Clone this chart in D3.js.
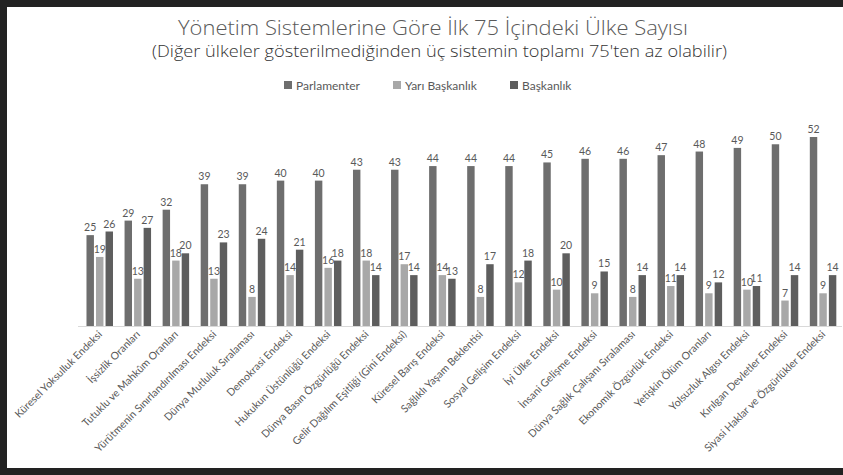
<!DOCTYPE html>
<html><head><meta charset="utf-8">
<script src="https://cdn.jsdelivr.net/npm/d3@7"></script>
<style>body{margin:0;background:#fff}svg{display:block}</style>
</head><body>
<svg id="chart" width="843" height="475"></svg>
<script>
const categories = [
  "Küresel Yoksulluk Endeksi","İşsizlik Oranları","Tutuklu ve Mahkûm Oranları",
  "Yürütmenin Sınırlandırılması Endeksi","Dünya Mutluluk Sıralaması","Demokrasi Endeksi",
  "Hukukun Üstünlüğü Endeksi","Dünya Basın Özgürlüğü Endeksi","Gelir Dağılım Eşitliği (Gini Endeksi)",
  "Küresel Barış Endeksi","Sağlıklı Yaşam Beklentisi","Sosyal Gelişim Endeksi","İyi Ülke Endeksi",
  "İnsani Gelişme Endeksi","Dünya Sağlık Çalışanı Sıralaması","Ekonomik Özgürlük Endeksi",
  "Yetişkin Ölüm Oranları","Yolsuzluk Algısı Endeksi","Kırılgan Devletler Endeksi",
  "Siyasi Haklar ve Özgürlükler Endeksi"
];
const parlamenter = [25,29,32,39,39,40,40,43,43,44,44,44,45,46,46,47,48,49,50,52];
const yariBaskanlik = [19,13,18,13,8,14,16,18,17,14,8,12,10,9,8,11,9,10,7,9];
const baskanlik = [26,27,20,23,24,21,18,14,14,13,17,18,20,15,14,14,12,11,14,14];
const seriesNames = ["Parlamenter","Yarı Başkanlık","Başkanlık"];
const seriesColors = ["#6e6e6e","#a8a8a8","#5e5e5e"];
const title = "Yönetim Sistemlerine Göre İlk 75 İçindeki Ülke Sayısı";
const subtitle = "(Diğer ülkeler gösterilmediğinden üç sistemin toplamı 75'ten az olabilir)";

const seriesData = [parlamenter, yariBaskanlik, baskanlik];
const svg = d3.select("#chart");
const font = "Lato, 'Open Sans', sans-serif";
const textColor = "#595959";

svg.append("rect").attr("width",843).attr("height",475).attr("fill","#fff");

const x0 = d3.scaleBand().domain(categories).range([80.7, 842.1]).padding(0);
const x1 = d3.scaleBand().domain(seriesNames).range([0, 26.5]).paddingInner(0.22);
const y = d3.scaleLinear().domain([0, 52]).range([326, 137]);

// baseline
svg.append("line").attr("x1",78).attr("x2",842).attr("y1",y(0)+0.5).attr("y2",y(0)+0.5)
  .attr("stroke","#d9d9d9").attr("stroke-width",1);

const groups = svg.append("g").selectAll("g").data(categories).join("g")
  .attr("transform", d => `translate(${x0(d) + x0.bandwidth()/2 - 13.25},0)`);

groups.each(function(cat, i){
  const g = d3.select(this);
  seriesNames.forEach((s, k) => {
    const v = seriesData[k][i];
    g.append("rect")
      .attr("x", x1(s)).attr("width", x1.bandwidth())
      .attr("y", y(v)).attr("height", y(0) - y(v))
      .attr("fill", seriesColors[k]);
    g.append("text")
      .attr("x", x1(s) + x1.bandwidth()/2).attr("y", y(v) - 4)
      .attr("text-anchor","middle")
      .attr("font-family", font).attr("font-size", 10.5)
      .attr("fill", textColor).text(v);
  });
});

// x axis labels
svg.append("g").selectAll("text").data(categories).join("text")
  .attr("transform", d => `translate(${x0(d) + x0.bandwidth()/2 + 3},${y(0)+9}) rotate(-45)`)
  .attr("text-anchor","end")
  .attr("font-family", font).attr("font-size", 10.5)
  .attr("fill", textColor).text(d => d);

// titles
svg.append("text").attr("x",178).attr("y",35)
  .attr("font-family","'Open Sans', sans-serif").attr("font-size",20).attr("font-weight",300)
  .attr("fill",textColor).attr("textLength",510).attr("lengthAdjust","spacingAndGlyphs")
  .text(title);
svg.append("text").attr("x",152).attr("y",57)
  .attr("font-family","'Open Sans', sans-serif").attr("font-size",15.5).attr("font-weight",300)
  .attr("fill","#333").attr("textLength",575).attr("lengthAdjust","spacingAndGlyphs")
  .text(subtitle);

// legend
const legendX = [284, 393, 510];
const legend = svg.append("g").selectAll("g").data(seriesNames).join("g")
  .attr("transform", (d,i) => `translate(${legendX[i]},81)`);
legend.append("rect").attr("width",8).attr("height",8).attr("fill",(d,i)=>seriesColors[i]);
legend.append("text").attr("x",12).attr("y",8.5)
  .attr("font-family", font).attr("font-size",12).attr("fill",textColor).text(d=>d);

// frame
svg.append("rect").attr("x",0).attr("y",0).attr("width",843).attr("height",7).attr("fill","#222");
svg.append("rect").attr("x",0).attr("y",0).attr("width",7).attr("height",475).attr("fill","#222");
svg.append("rect").attr("x",0).attr("y",468).attr("width",843).attr("height",7).attr("fill","#222");
</script>
</body></html>
